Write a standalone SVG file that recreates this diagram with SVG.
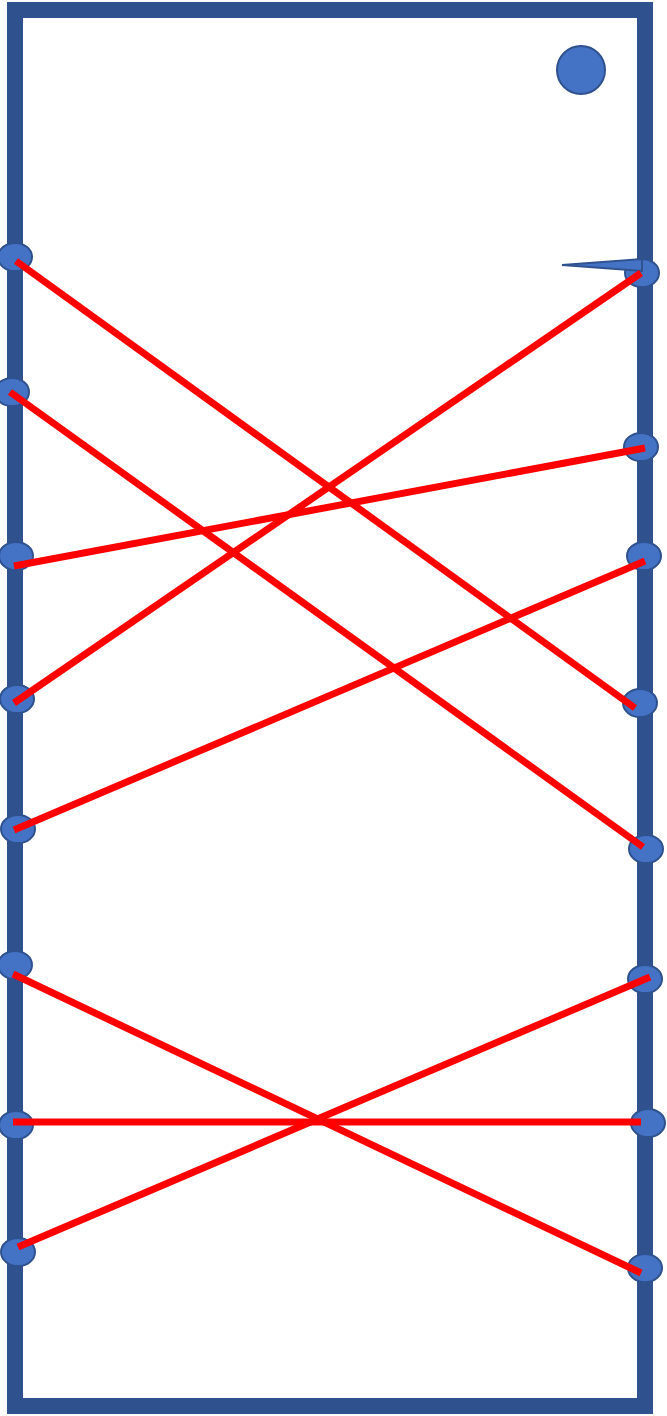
<svg xmlns="http://www.w3.org/2000/svg" width="667" height="1416" viewBox="0 0 667 1416">
<style>
.frame{fill:none;stroke:#2F528F;stroke-width:16}
.pin{fill:#4472C4;stroke:#2F528F;stroke-width:2}
.wire{stroke:#FF0000;stroke-width:7;fill:none}
</style>
<rect width="667" height="1416" fill="#FFFFFF"/>
<g id="frame"><rect class="frame" x="15" y="10" width="630" height="1396"/></g>
<g id="marker-dot"><circle class="pin" cx="581" cy="70" r="24"/></g>
<g id="pins-left">
<ellipse class="pin" cx="15" cy="257" rx="17" ry="14"/>
<ellipse class="pin" cx="12" cy="392" rx="17" ry="14"/>
<ellipse class="pin" cx="16" cy="556" rx="17" ry="14"/>
<ellipse class="pin" cx="17" cy="699" rx="17" ry="14"/>
<ellipse class="pin" cx="18" cy="829" rx="17" ry="14"/>
<ellipse class="pin" cx="15" cy="965" rx="17" ry="14"/>
<ellipse class="pin" cx="16" cy="1125" rx="17" ry="14"/>
<ellipse class="pin" cx="18" cy="1252" rx="17" ry="14"/>
</g>
<g id="pins-right">
<ellipse class="pin" cx="642" cy="273" rx="17" ry="14"/>
<ellipse class="pin" cx="641" cy="447" rx="17" ry="14"/>
<ellipse class="pin" cx="644" cy="556" rx="17" ry="14"/>
<ellipse class="pin" cx="640" cy="703" rx="17" ry="14"/>
<ellipse class="pin" cx="646" cy="849" rx="17" ry="14"/>
<ellipse class="pin" cx="645" cy="979" rx="17" ry="14"/>
<ellipse class="pin" cx="648" cy="1123" rx="17" ry="14"/>
<ellipse class="pin" cx="645" cy="1268" rx="17" ry="14"/>
</g>
<g id="pointer"><polygon class="pin" points="562,265 642,259 642,271"/></g>
<g id="connectors">
<line class="wire" x1="16" y1="261" x2="635" y2="708"/>
<line class="wire" x1="10" y1="392" x2="643" y2="847"/>
<line class="wire" x1="14" y1="566" x2="645" y2="448"/>
<line class="wire" x1="14" y1="703" x2="641" y2="273"/>
<line class="wire" x1="14" y1="830" x2="645" y2="561"/>
<line class="wire" x1="13" y1="974" x2="641" y2="1273"/>
<line class="wire" x1="13" y1="1122" x2="641" y2="1122"/>
<line class="wire" x1="18" y1="1247" x2="650" y2="977"/>
</g>
</svg>
